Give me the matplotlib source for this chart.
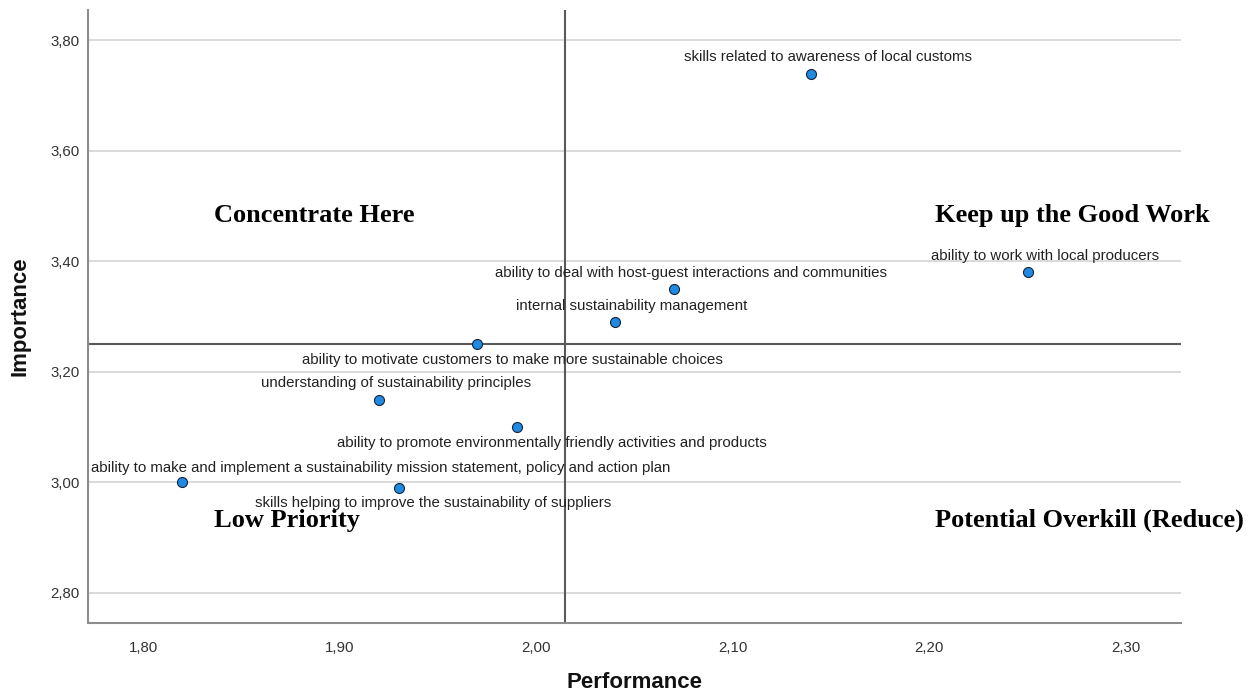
import numpy as np
import matplotlib.pyplot as plt

# competencies and their mean scores
skills = [
    "skills related to awareness of local customs",
    "ability to work with local producers",
    "ability to deal with host-guest interactions and communities",
    "internal sustainability management",
    "ability to motivate customers to make more sustainable choices",
    "understanding of sustainability principles",
    "ability to promote environmentally friendly activities and products",
    "ability to make and implement a sustainability mission statement, policy and action plan",
    "skills helping to improve the sustainability of suppliers",
]
performance = [2.14, 2.25, 2.07, 2.04, 1.97, 1.92, 1.99, 1.82, 1.93]
importance = [3.74, 3.38, 3.35, 3.29, 3.25, 3.15, 3.10, 3.00, 2.99]

x_ticks = [1.80, 1.90, 2.00, 2.10, 2.20, 2.30]
y_ticks = [2.80, 3.00, 3.20, 3.40, 3.60, 3.80]

quadrants = ["Concentrate Here", "Keep up the Good Work",
             "Low Priority", "Potential Overkill (Reduce)"]

# label placement, in pixels from the point
up = (17, 16.5)
down = (35, -15.5)
label_offsets = [up, up, up, up, down, up, down, (198, 14), down]
quad_pos = [(0.1157, 0.6636), (0.775, 0.6636), (0.1157, 0.168), (0.775, 0.168)]

plt.rcParams['font.family'] = ['Liberation Sans', 'DejaVu Sans']

W, H = 1256, 695
fig = plt.figure(figsize=(W / 100, H / 100), dpi=100)
ax = fig.add_axes([88 / W, 1 - 623.3 / H, 1093 / W, 613.8 / H])

ax.set_xlim(1.772, 2.328)
ax.set_ylim(2.745, 3.856)

ax.yaxis.grid(True, color='#d4d4d4', lw=1.2)
ax.set_axisbelow(True)

ax.axvline(np.mean(performance), color='#5a5a5a', lw=1.5, zorder=2)
ax.axhline(np.mean(importance), color='#5a5a5a', lw=1.5, zorder=2)

ax.scatter(performance, importance, s=52, c='#1e8ae2', edgecolors='#15233a',
           linewidths=0.8, zorder=3)

for name, px, iy, off in zip(skills, performance, importance, label_offsets):
    ax.annotate(name, (px, iy), xytext=off, textcoords='offset pixels',
                ha='center', va='center', fontsize=10.8, color='#222222',
                zorder=4)

for q, (qx, qy) in zip(quadrants, quad_pos):
    ax.text(qx, qy, q, transform=ax.transAxes, ha='left', va='center',
            fontsize=19, fontweight='bold', family=['Liberation Serif'],
            color='#000000')

ax.set_xticks(x_ticks)
ax.set_yticks(y_ticks)
ax.set_xticklabels([f"{v:.2f}".replace('.', ',') for v in x_ticks])
ax.set_yticklabels([f"{v:.2f}".replace('.', ',') for v in y_ticks])
ax.tick_params(length=0, labelsize=10.8, labelcolor='#333333')
ax.tick_params(axis='x', pad=13)
ax.tick_params(axis='y', pad=6)

for s in ['top', 'right']:
    ax.spines[s].set_visible(False)
for s in ['left', 'bottom']:
    ax.spines[s].set_color('#8c8c8c')
    ax.spines[s].set_linewidth(1.5)

ax.set_xlabel('Performance', fontsize=16, fontweight='bold', va='center',
              color='#111111')
ax.xaxis.set_label_coords(0.5, (623.3 - 683) / 613.8)
ax.set_ylabel('Importance', fontsize=16, fontweight='bold', va='center',
              color='#111111')
ax.yaxis.set_label_coords((20 - 88) / 1093, 0.5)

fig.savefig('out.png', dpi=100)
